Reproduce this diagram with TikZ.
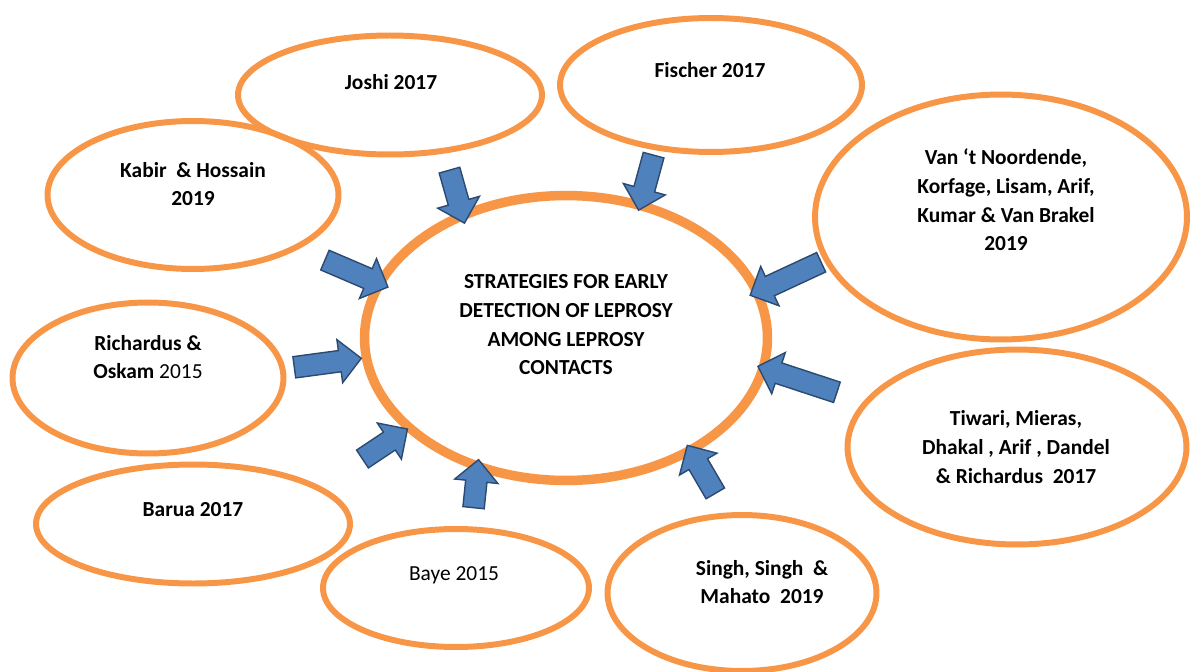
\documentclass[tikz,border=0pt]{standalone}
\usepackage{fontspec}
\setmainfont{Carlito}
\usetikzlibrary{shapes.geometric,shapes.arrows,calc}

\definecolor{ringorange}{HTML}{F79646}
\definecolor{arrowblue}{HTML}{4F81BD}
\definecolor{arrowedge}{HTML}{2C4A70}

\tikzset{
  study/.style={ellipse, draw=ringorange, line width=3.4pt, inner sep=0pt},
  hub/.style={ellipse, draw=ringorange, line width=5.4pt, inner sep=0pt},
  cite/.style={align=center, inner sep=0pt, font=\fontsize{12.2}{16.3}\selectfont\bfseries},
  push/.style={single arrow, draw=arrowedge, fill=arrowblue, line width=0.8pt,
    inner xsep=0pt, inner ysep=0.2cm, single arrow head extend=0.22cm}
}

% block arrow from #1 (tail) to #2 (tip), named #3
\newcommand\pusharrow[3]{%
  \path let \p1=($(#2)-(#1)$), \n1={atan2(\y1,\x1)}, \n2={veclen(\x1,\y1)} in
    node[push, rotate=\n1, minimum height=\n2] (#3) at ($(#1)!0.5!(#2)$) {};}

\begin{document}
\begin{tikzpicture}[x=0.02cm, y=-0.02cm]
  \useasboundingbox (0,0) rectangle (1190,672);

  % ellipses
  \node[hub, minimum width=8.06cm, minimum height=5.7cm] (hub) at (566,338) {};
  \node[study, minimum width=6.08cm, minimum height=2.38cm] (joshi) at (390,95) {};
  \node[study, minimum width=6.04cm, minimum height=2.68cm] (fischer) at (711,85) {};
  \node[study, minimum width=5.82cm, minimum height=2.96cm] (kabir) at (193,195) {};
  \node[study, minimum width=7.44cm, minimum height=4.90cm] (vant) at (1001,217) {};
  \node[study, minimum width=5.42cm, minimum height=3.02cm] (richardus) at (148,378) {};
  \node[study, minimum width=6.78cm, minimum height=3.90cm] (tiwari) at (1017,447) {};
  \node[study, minimum width=6.28cm, minimum height=2.38cm] (barua) at (193,524) {};
  \node[study, minimum width=5.32cm, minimum height=2.36cm] (baye) at (456,588) {};
  \node[study, minimum width=5.38cm, minimum height=3.12cm] (singh) at (742,593) {};

  % texts
  \node[cite] (hub-t) at (566,325) {STRATEGIES FOR EARLY\\DETECTION OF LEPROSY\\AMONG LEPROSY\\CONTACTS};
  \node[cite] (joshi-t) at (391,82) {Joshi 2017};
  \node[cite] (fischer-t) at (710,70) {Fischer 2017};
  \node[cite] (kabir-t) at (193,184) {Kabir\ \ \& Hossain\\2019};
  \node[cite] (vant-t) at (1006,200) {Van ‘t Noordende,\\Korfage, Lisam, Arif,\\Kumar \& Van Brakel\\2019};
  \node[cite] (richardus-t) at (148,357) {Richardus \&\\Oskam \mdseries 2015};
  \node[cite] (tiwari-t) at (1016,447) {Tiwari, Mieras,\\Dhakal , Arif , Dandel\\\& Richardus\ \ 2017};
  \node[cite] (barua-t) at (193,510) {Barua 2017};
  \node[cite, font=\fontsize{12.2}{16.3}\selectfont] (baye-t) at (454,575) {Baye 2015};
  \node[cite] (singh-t) at (762,582) {Singh, Singh\ \ \&\\Mahato\ \ 2019};

  % arrow ends
  \coordinate (joshi-a) at (448,165);     \coordinate (joshi-b) at (463,218);
  \coordinate (fischer-a) at (655,150);   \coordinate (fischer-b) at (640,205);
  \coordinate (kabir-a) at (320,258);     \coordinate (kabir-b) at (383,285);
  \coordinate (richardus-a) at (289,368); \coordinate (richardus-b) at (356,359);
  \coordinate (barua-a) at (358,462);     \coordinate (barua-b) at (403,432);
  \coordinate (baye-a) at (473,513);      \coordinate (baye-b) at (478,465);
  \coordinate (vant-a) at (826,260);      \coordinate (vant-b) at (755,293);
  \coordinate (tiwari-a) at (842,394);    \coordinate (tiwari-b) at (763,368);
  \coordinate (singh-a) at (718,498);     \coordinate (singh-b) at (690,450);

  \foreach \s in {joshi,fischer,kabir,richardus,barua,baye,vant,tiwari,singh}{
    \pusharrow{\s-a}{\s-b}{\s-arrow}
  }
\end{tikzpicture}
\end{document}
